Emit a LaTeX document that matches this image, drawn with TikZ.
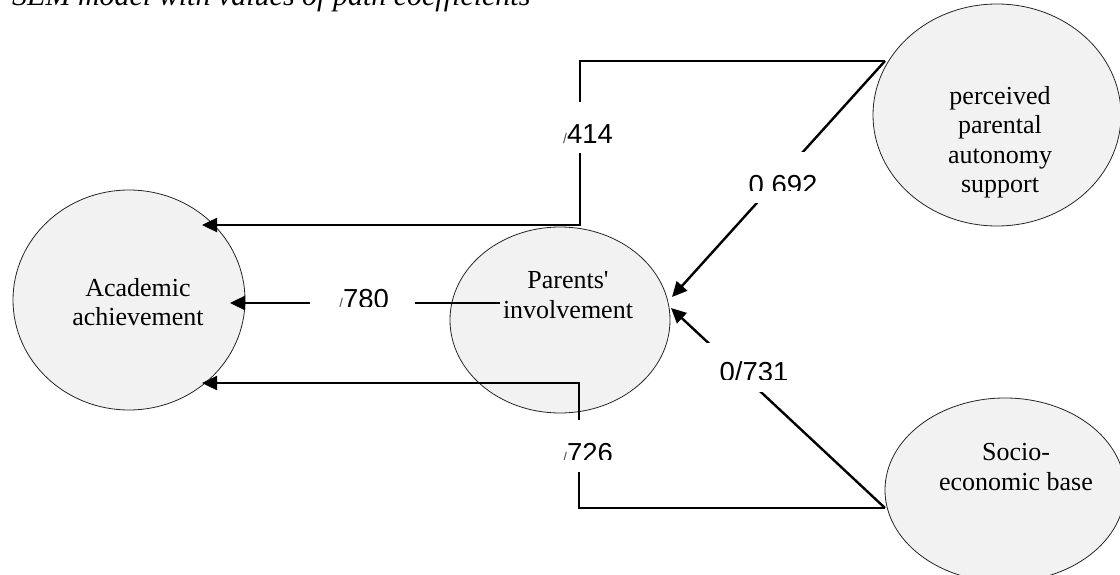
\documentclass[tikz,border=0pt]{standalone}
\usepackage{fontspec}
\setmainfont{Liberation Serif}
\newfontfamily\lblfont{Liberation Sans}
\usetikzlibrary{arrows.meta,shapes.geometric}
\begin{document}
\begin{tikzpicture}[x=1pt,y=-1pt,
  latent/.style={ellipse,draw=black!85,line width=0.8pt,fill=gray!10,inner sep=0pt},
  vtext/.style={align=center,font=\fontsize{26}{29.5}\selectfont,inner sep=0pt},
  pathline/.style={line width=2.4pt,-{Triangle[length=15pt,width=14pt]}},
  lbl/.style={font=\lblfont\fontsize{27.5}{30}\selectfont,inner sep=0pt,anchor=base},
  lblbox/.style={fill=white},
]
\useasboundingbox (0,0) rectangle (1120,575);
\fill[white] (0,0) rectangle (1120,575);

% title (cut by the top edge)
\node[font=\itshape\fontsize{30}{32}\selectfont,anchor=base west,inner sep=0pt] (title) at (12,6) {SEM model with values of path coefficients};

% latent variables
\node[latent,minimum width=232pt,minimum height=220pt] (acad) at (129,300) {};
\node[latent,minimum width=220pt,minimum height=186pt] (par) at (560,320) {};
\node[latent,minimum width=248pt,minimum height=222pt] (perc) at (997,115) {};
\node[latent,minimum width=240pt,minimum height=184pt] (socio) at (1005,490) {};

\node[vtext] (acadt) at (138,302) {Academic\\achievement};
\node[vtext] (part) at (568,295) {Parents\textquotesingle\\involvement};
\node[vtext] (perct) at (1000,142) {perceived\\parental\\autonomy\\support};
\node[vtext] (sociot) at (1016,467) {Socio-\\economic base};

% junctions and tips
\coordinate (pj) at (885,61);
\coordinate (k1) at (580,61);
\coordinate (k2) at (580,225);
\coordinate (ta1) at (202,225);
\coordinate (tp1) at (672,297);
\coordinate (sp) at (500,303);
\coordinate (ta2) at (230,303);
\coordinate (tp2) at (671,308);
\coordinate (sj) at (885,508);
\coordinate (k3) at (579,508);
\coordinate (k4) at (579,383);
\coordinate (ta3) at (202,383);

% connectors
\draw[pathline] (pj) -- (k1) -- (k2) -- (ta1);
\draw[pathline] (pj) -- (tp1);
\draw[pathline] (sp) -- (ta2);
\draw[pathline] (sj) -- (tp2);
\draw[pathline] (sj) -- (k3) -- (k4) -- (ta3);

% coefficient labels (text boxes, some clipped at the bottom)
\fill[lblbox] (555,102) rectangle (625,153);
\node[lbl] (l414) at (588,144) {{\fontsize{14}{14}\selectfont\color{black!70}/}414};

\fill[lblbox] (740,152) rectangle (830,203);
\begin{scope}
\clip (740,152) rectangle (830,190.5);
\node[lbl] (l692) at (783,195) {0.692};
\end{scope}

\fill[lblbox] (310,282) rectangle (415,312);
\begin{scope}
\clip (310,282) rectangle (415,306);
\node[lbl] (l780) at (364,308.5) {{\fontsize{14}{14}\selectfont\color{black!70}/}780};
\end{scope}

\fill[lblbox] (700,343) rectangle (800,392);
\begin{scope}
\clip (700,343) rectangle (800,379.5);
\node[lbl] (l731) at (754,381.5) {0/731};
\end{scope}

\fill[lblbox] (550,420) rectangle (625,472);
\begin{scope}
\clip (550,420) rectangle (625,459.5);
\node[lbl] (l726) at (588,462) {{\fontsize{14}{14}\selectfont\color{black!70}/}726};
\end{scope}
\end{tikzpicture}
\end{document}
